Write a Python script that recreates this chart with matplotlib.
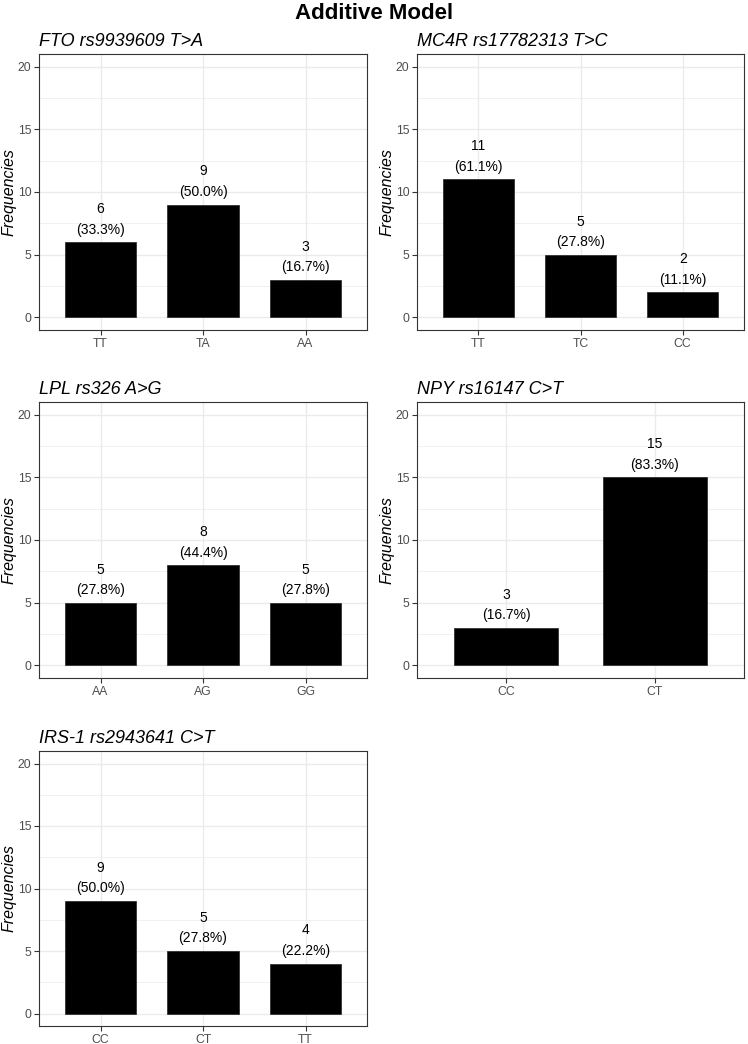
import numpy as np
import matplotlib.pyplot as plt

plt.rcParams['font.family'] = ['Liberation Sans', 'DejaVu Sans']

# genotype counts per SNP
fto_labels = ["TT", "TA", "AA"]
fto_counts = [6, 9, 3]
fto_pct = [33.3, 50.0, 16.7]

mc4r_labels = ["TT", "TC", "CC"]
mc4r_counts = [11, 5, 2]
mc4r_pct = [61.1, 27.8, 11.1]

lpl_labels = ["AA", "AG", "GG"]
lpl_counts = [5, 8, 5]
lpl_pct = [27.8, 44.4, 27.8]

npy_labels = ["CC", "CT"]
npy_counts = [3, 15]
npy_pct = [16.7, 83.3]

irs_labels = ["CC", "CT", "TT"]
irs_counts = [9, 5, 4]
irs_pct = [50.0, 27.8, 22.2]

titles = ["FTO rs9939609 T>A", "MC4R rs17782313 T>C", "LPL rs326 A>G",
          "NPY rs16147 C>T", "IRS-1 rs2943641 C>T"]

panels = [
    (fto_labels, fto_counts, fto_pct),
    (mc4r_labels, mc4r_counts, mc4r_pct),
    (lpl_labels, lpl_counts, lpl_pct),
    (npy_labels, npy_counts, npy_pct),
    (irs_labels, irs_counts, irs_pct),
]

W, H = 748, 1044
fig = plt.figure(figsize=(W / 100, H / 100), dpi=100)

# axes boxes in pixels: left, top, right, bottom
lefts = [(39, 367), (417, 744)]
rows = [(54, 330), (402, 678), (751, 1026)]

def make_ax(row, col):
    l, r = lefts[col]
    t, b = rows[row]
    return fig.add_axes([l / W, 1 - b / H, (r - l) / W, (b - t) / H])

for i, (labels, counts, pct) in enumerate(panels):
    ax = make_ax(i // 2, i % 2)
    n = len(labels)
    x = np.arange(1, n + 1)
    ax.set_xlim(0.4, n + 0.6)
    ax.set_ylim(-1, 21)
    ax.set_axisbelow(True)

    ax.set_yticks([0, 5, 10, 15, 20])
    ax.set_yticks([2.5, 7.5, 12.5, 17.5], minor=True)
    ax.set_xticks(x)
    ax.set_xticklabels(labels)
    ax.grid(True, which='major', color='#EBEBEB', linewidth=1.0)
    ax.grid(True, which='minor', axis='y', color='#EBEBEB', linewidth=0.5)
    ax.tick_params(which='minor', length=0)
    ax.tick_params(which='major', length=3.5, width=0.8, color='#333333',
                   labelsize=8.8, labelcolor='#4D4D4D', pad=2)
    for sp in ax.spines.values():
        sp.set_color('#333333')
        sp.set_linewidth(0.8)

    ax.bar(x, counts, width=0.7, color='black', edgecolor='#222222', linewidth=0.5)
    for xi, c, p in zip(x, counts, pct):
        ax.annotate(f"{c}\n({p:.1f}%)", (xi, c), xytext=(0, 4),
                    textcoords='offset points', ha='center', va='bottom',
                    fontsize=10, linespacing=1.6)

    ax.set_title(titles[i], loc='left', fontsize=13, style='italic', pad=6)
    ax.set_ylabel("Frequencies", fontsize=11.5, style='italic', labelpad=1)

fig.suptitle("Additive Model", fontsize=16, fontweight='bold', y=0.997, va='top')

fig.savefig("out.png", dpi=100)
